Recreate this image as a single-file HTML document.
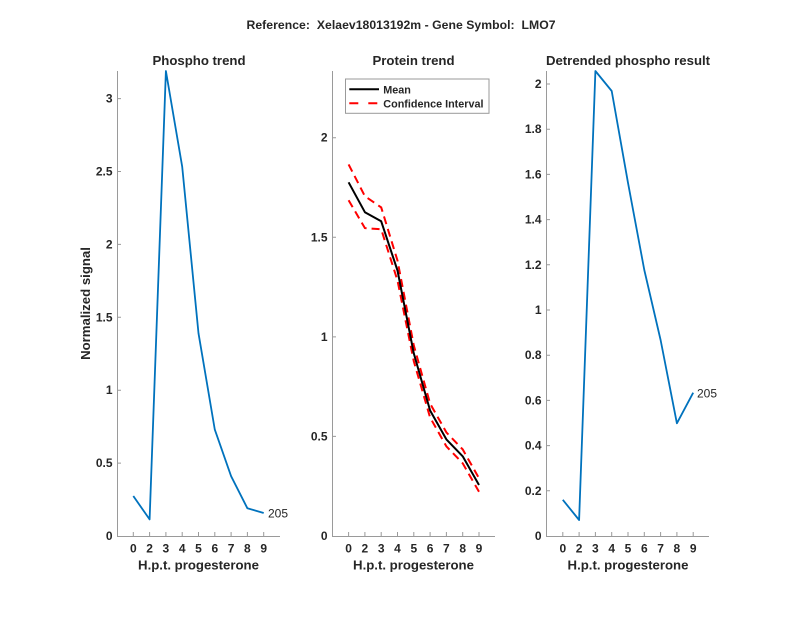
<!DOCTYPE html>
<html><head><meta charset="utf-8"><style>
html,body{margin:0;padding:0;background:#fff;}
svg{display:block;}
text{font-family:"Liberation Sans",Arial,sans-serif;font-weight:bold;fill:#262626;}
.t{font-size:12px;}
.lbl{font-size:13.2px;}
</style></head><body>
<svg width="800" height="618" viewBox="0 0 800 618" xmlns="http://www.w3.org/2000/svg">
<rect width="800" height="618" fill="#fff"/>
<text x="401" y="29" text-anchor="middle" style="font-size:12.2px;white-space:pre" xml:space="preserve" textLength="309" lengthAdjust="spacing">Reference:&#160; Xelaev18013192m - Gene Symbol:&#160; LMO7</text>

<!-- Panel 1 -->
<g stroke="#9a9a9a" stroke-width="1" fill="none">
<path d="M117.5,71 V536.5 H280"/>
<path d="M133.3,536 v-4 M149.6,536 v-4 M165.9,536 v-4 M182.2,536 v-4 M198.5,536 v-4 M214.8,536 v-4 M231.1,536 v-4 M247.4,536 v-4 M263.7,536 v-4"/>
<path d="M117,463.1 h4 M117,390.2 h4 M117,317.3 h4 M117,244.4 h4 M117,171.5 h4 M117,98.6 h4"/>
</g>
<g class="t" text-anchor="end">
<text x="112.5" y="540">0</text><text x="112.5" y="467.1">0.5</text><text x="112.5" y="394.2">1</text><text x="112.5" y="321.3">1.5</text><text x="112.5" y="248.4">2</text><text x="112.5" y="175.5">2.5</text><text x="112.5" y="102.6">3</text>
</g>
<g class="t" text-anchor="middle">
<text x="133.3" y="552.5">0</text><text x="149.6" y="552.5">2</text><text x="165.9" y="552.5">3</text><text x="182.2" y="552.5">4</text><text x="198.5" y="552.5">5</text><text x="214.8" y="552.5">6</text><text x="231.1" y="552.5">7</text><text x="247.4" y="552.5">8</text><text x="263.7" y="552.5">9</text>
</g>
<text x="198.5" y="569.5" class="lbl" text-anchor="middle">H.p.t. progesterone</text>
<text x="199" y="65" class="lbl" text-anchor="middle">Phospho trend</text>
<text transform="translate(90,303.5) rotate(-90)" class="lbl" text-anchor="middle">Normalized signal</text>
<polyline fill="none" stroke="#0072BD" stroke-width="1.8" stroke-linejoin="round" points="133.3,496 149.6,519.4 165.9,71 182.2,166.7 198.5,333.3 214.8,429.6 231.1,476.2 247.4,508.3 263.7,513"/>
<text x="268" y="517.5" style="font-weight:normal;font-size:12px">205</text>

<!-- Panel 2 -->
<g stroke="#9a9a9a" stroke-width="1" fill="none">
<path d="M332.5,71 V536.5 H495"/>
<path d="M348.6,536 v-4 M364.9,536 v-4 M381.2,536 v-4 M397.5,536 v-4 M413.8,536 v-4 M430.1,536 v-4 M446.4,536 v-4 M462.7,536 v-4 M479,536 v-4"/>
<path d="M332,436.4 h4 M332,336.85 h4 M332,237.3 h4 M332,137.7 h4"/>
</g>
<g class="t" text-anchor="end">
<text x="327.5" y="540">0</text><text x="327.5" y="440.4">0.5</text><text x="327.5" y="340.9">1</text><text x="327.5" y="241.3">1.5</text><text x="327.5" y="141.7">2</text>
</g>
<g class="t" text-anchor="middle">
<text x="348.6" y="552.5">0</text><text x="364.9" y="552.5">2</text><text x="381.2" y="552.5">3</text><text x="397.5" y="552.5">4</text><text x="413.8" y="552.5">5</text><text x="430.1" y="552.5">6</text><text x="446.4" y="552.5">7</text><text x="462.7" y="552.5">8</text><text x="479" y="552.5">9</text>
</g>
<text x="413.5" y="569.5" class="lbl" text-anchor="middle">H.p.t. progesterone</text>
<text x="413.5" y="65" class="lbl" text-anchor="middle">Protein trend</text>
<polyline fill="none" stroke="#ff0000" stroke-width="2" stroke-dasharray="8,5" points="348.6,164.4 364.9,196.2 381.2,207.4 397.5,260.6 413.8,345.4 430.1,403.6 446.4,432.4 462.7,449.4 479,478.2"/>
<polyline fill="none" stroke="#ff0000" stroke-width="2" stroke-dasharray="8,5" points="348.6,200.2 364.9,228.1 381.2,229.3 397.5,280.5 413.8,361.3 430.1,417.5 446.4,446.4 462.7,463.3 479,491.8"/>
<polyline fill="none" stroke="#000" stroke-width="2" stroke-linejoin="round" points="348.6,182.3 364.9,212.2 381.2,221.3 397.5,270.5 413.8,353.4 430.1,410.5 446.4,439.4 462.7,456.3 479,485"/>
<!-- legend -->
<rect x="345.5" y="79" width="143.5" height="34.3" fill="#fff" stroke="#9a9a9a" stroke-width="1"/>
<line x1="349.3" y1="89.3" x2="379" y2="89.3" stroke="#000" stroke-width="2"/>
<line x1="349.3" y1="103.3" x2="379" y2="103.3" stroke="#ff0000" stroke-width="2" stroke-dasharray="9,10"/>
<text x="383.3" y="93.3" style="font-size:10.8px">Mean</text>
<text x="383.3" y="107.3" style="font-size:10.8px">Confidence Interval</text>

<!-- Panel 3 -->
<g stroke="#9a9a9a" stroke-width="1" fill="none">
<path d="M546.5,71 V536.5 H709"/>
<path d="M562.8,536 v-4 M579.1,536 v-4 M595.4,536 v-4 M611.7,536 v-4 M628,536 v-4 M644.3,536 v-4 M660.6,536 v-4 M676.9,536 v-4 M693.2,536 v-4"/>
<path d="M546,490.8 h4 M546,445.6 h4 M546,400.4 h4 M546,355.2 h4 M546,310 h4 M546,264.8 h4 M546,219.6 h4 M546,174.4 h4 M546,129.2 h4 M546,84 h4"/>
</g>
<g class="t" text-anchor="end">
<text x="541.5" y="540">0</text><text x="541.5" y="494.8">0.2</text><text x="541.5" y="449.6">0.4</text><text x="541.5" y="404.4">0.6</text><text x="541.5" y="359.2">0.8</text><text x="541.5" y="314">1</text><text x="541.5" y="268.8">1.2</text><text x="541.5" y="223.6">1.4</text><text x="541.5" y="178.4">1.6</text><text x="541.5" y="133.2">1.8</text><text x="541.5" y="88">2</text>
</g>
<g class="t" text-anchor="middle">
<text x="562.8" y="552.5">0</text><text x="579.1" y="552.5">2</text><text x="595.4" y="552.5">3</text><text x="611.7" y="552.5">4</text><text x="628" y="552.5">5</text><text x="644.3" y="552.5">6</text><text x="660.6" y="552.5">7</text><text x="676.9" y="552.5">8</text><text x="693.2" y="552.5">9</text>
</g>
<text x="628" y="569.5" class="lbl" text-anchor="middle">H.p.t. progesterone</text>
<text x="628" y="65" class="lbl" text-anchor="middle">Detrended phospho result</text>
<polyline fill="none" stroke="#0072BD" stroke-width="1.8" stroke-linejoin="round" points="562.8,499.8 579.1,520 595.4,71 611.7,91 628,182.8 644.3,270 660.6,340 676.9,423.3 693.2,392.7"/>
<text x="697" y="397.5" style="font-weight:normal;font-size:12px">205</text>
</svg>
</body></html>
